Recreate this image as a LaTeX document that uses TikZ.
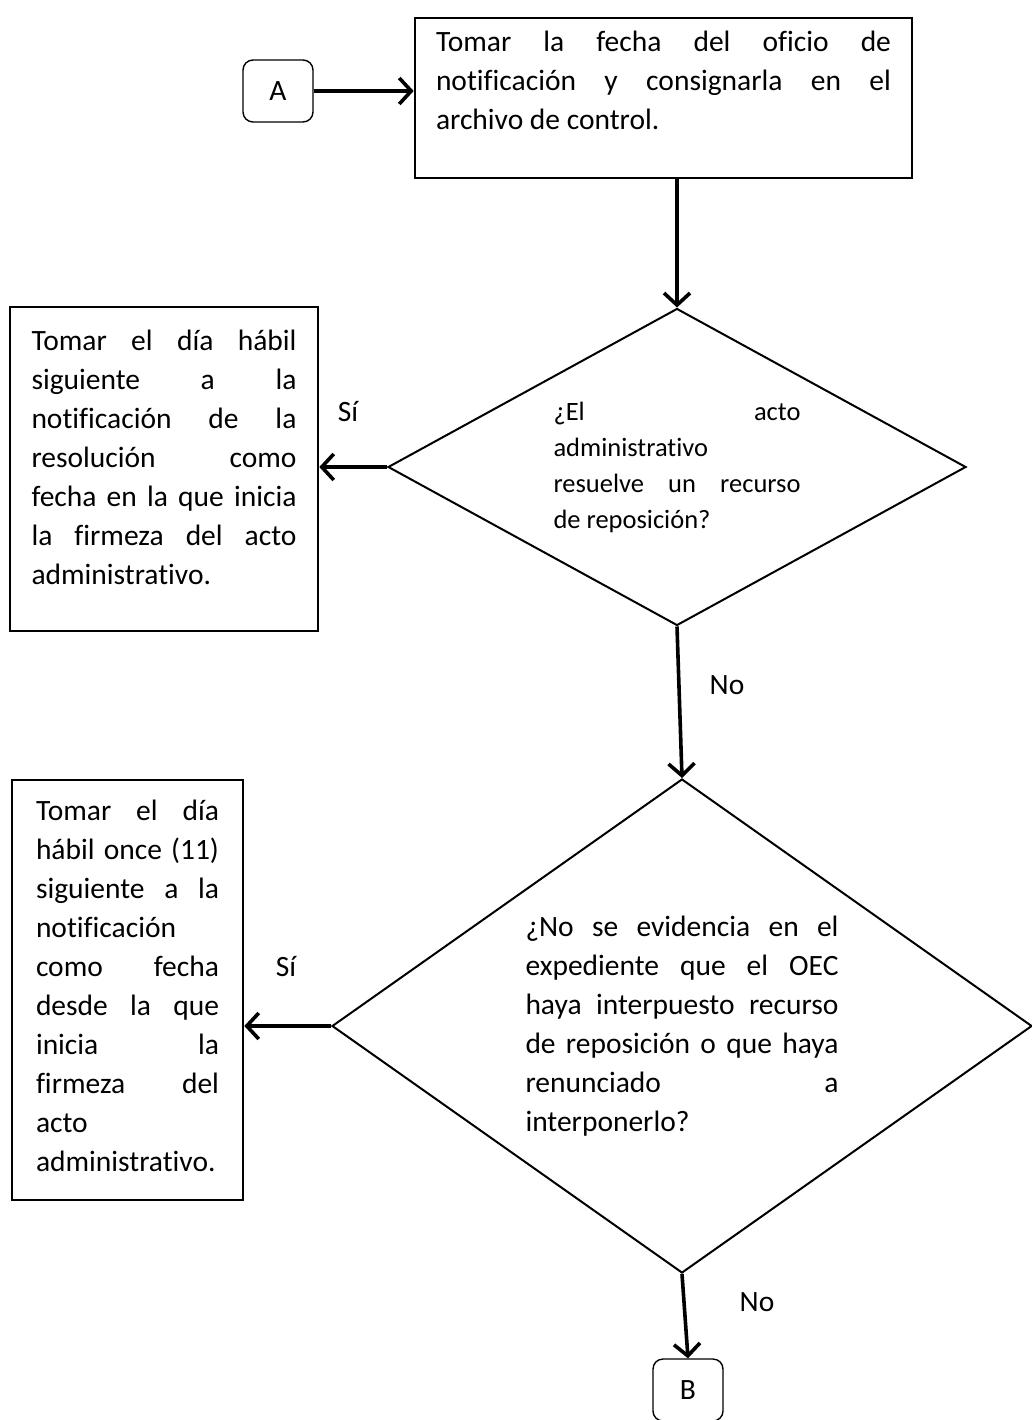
\documentclass[tikz,border=0pt]{standalone}
\usepackage{fontspec}
\setmainfont[Ligatures=NoCommon]{Carlito}
\usepackage{tikz}
\usetikzlibrary{arrows.meta, shapes.geometric}
\newcommand{\boxfont}{\fontsize{29.5}{39}\selectfont}
\newcommand{\askfont}{\fontsize{26.5}{36}\selectfont}

\begin{document}
\begin{tikzpicture}[x=1pt, y=-1pt,
        procbox/.style={draw, line width=2.6pt, rectangle, align=justify, inner sep=0pt, font=\boxfont},
        askbox/.style={draw, line width=2pt, diamond, align=justify, inner sep=0pt},
        linkbox/.style={draw, line width=1.4pt, rounded corners=10pt, minimum width=70pt, minimum height=62pt, font=\boxfont},
        flow/.style={line width=3.6pt, -{Straight Barb[length=12pt, width=26pt]}},
        tag/.style={font=\boxfont}]
        \path[use as bounding box, fill=white] (0,0) rectangle (1032,1420);

        % conectores
        \node[linkbox] (A) at (278,91) {A};
        \node[linkbox] (B) at (688,1390) {B};

        % pasos
        \node[procbox, minimum width=497pt, minimum height=160pt, text width=455pt] (fecha) at (663.5,98)
            {Tomar la fecha del oficio de\linebreak notificación y consignarla en el\linebreak archivo de control.\rule[-36pt]{0pt}{36pt}};
        \node[procbox, minimum width=308pt, minimum height=324pt, text width=265pt] (firme) at (164,469)
            {Tomar el día hábil\linebreak siguiente a la\linebreak notificación de la\linebreak resolución como\linebreak fecha en la que inicia\linebreak la firmeza del acto\linebreak administrativo.\rule[-24pt]{0pt}{24pt}};
        \node[procbox, minimum width=231pt, minimum height=420pt, text width=183pt] (once) at (127.5,990)
            {Tomar el día\linebreak hábil once (11)\linebreak siguiente a la\linebreak notificación\linebreak como fecha\linebreak desde la que\linebreak inicia la\linebreak firmeza del\linebreak acto\linebreak administrativo.\rule[-9pt]{0pt}{9pt}};

        % preguntas
        \node[askbox, minimum width=578pt, minimum height=317pt, shape aspect=1.82, text width=247pt, font=\askfont] (recurso) at (677,467)
            {¿El acto\linebreak administrativo\linebreak resuelve un recurso\linebreak de reposición?};
        \node[askbox, minimum width=700pt, minimum height=494pt, shape aspect=1.42, text width=313pt, font=\boxfont] (renuncia) at (682,1026)
            {¿No se evidencia en el\linebreak expediente que el OEC\linebreak haya interpuesto recurso\linebreak de reposición o que haya\linebreak renunciado a\linebreak interponerlo?};

        % flechas
        \draw[flow] (A.east) -- (A.east -| fecha.west);
        \draw[flow] (recurso.north |- fecha.south) -- (recurso.north);
        \draw[flow] (recurso.west) -- (recurso.west -| firme.east);
        \draw[flow] (recurso.south) -- (renuncia.north);
        \draw[flow] (renuncia.west) -- (renuncia.west -| once.east);
        \draw[flow] (renuncia.south) -- (B.north);

        % etiquetas
        \node[tag] (si1) at (348,412) {Sí};
        \node[tag] (no1) at (727,685) {No};
        \node[tag] (si2) at (286,967) {Sí};
        \node[tag] (no2) at (757,1302) {No};
    \end{tikzpicture}
\end{document}
